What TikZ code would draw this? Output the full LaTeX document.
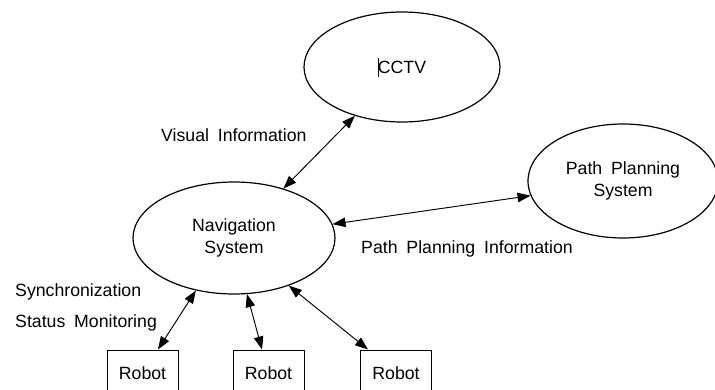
\documentclass[tikz,border=0pt]{standalone}
\usepackage{fontspec}
\setmainfont{Liberation Sans}
\usetikzlibrary{shapes.geometric,arrows.meta,calc}

% label font with the wider word gaps used throughout
\newcommand\lblfont{\fontsize{17.7}{22}\selectfont\spaceskip=0.5em\relax}

\tikzset{
  oval/.style={draw, ellipse, line width=1.2pt, inner sep=0pt, align=center,
               font=\lblfont},
  robotbox/.style={draw, rectangle, line width=1pt, minimum width=71pt,
                   minimum height=46pt, inner sep=0pt, font=\lblfont},
  lbl/.style={inner sep=0pt, anchor=west, font=\lblfont},
  link/.style={line width=0.95pt, {Triangle[length=13pt,width=9.5pt]}-{Triangle[length=13pt,width=9.5pt]}}
}

\begin{document}
\begin{tikzpicture}[x=1pt,y=-1pt]
  \clip (0,0) rectangle (715,390);
  \fill[white] (0,0) rectangle (715,390);

  % main blocks
  \node[oval, minimum width=196pt, minimum height=110pt] (cctv) at (402,67) {CCTV};
  \node[oval, minimum width=202pt, minimum height=112pt] (nav) at (234,238) {Navigation\\System};
  \node[oval, minimum width=190pt, minimum height=114pt] (pps) at (623,181) {Path Planning\\System};

  % text caret before the CCTV label
  \draw[line width=0.6pt] ($(cctv.center)+(-24,-9)$) coordinate (caretTop) -- ($(cctv.center)+(-24,10)$) coordinate (caretBot);

  % robots
  \node[robotbox] (r1) at (142.5,373) {Robot};
  \node[robotbox] (r2) at (268.5,373) {Robot};
  \node[robotbox] (r3) at (396,373) {Robot};

  % links
  \draw[link] (cctv.226) -- (nav.45);
  \draw[link] (nav.8.7) -- (pps.189.8);
  \draw[link] (nav.234.7) -- ([xshift=15.5pt]r1.north);
  \draw[link] (nav.283.6) -- ([xshift=-6.5pt]r2.north);
  \draw[link] (nav.319.7) -- ([xshift=-28pt]r3.north);

  % link labels
  \node[lbl] (visinfo) at (161,135) {Visual Information};
  \node[lbl] (ppinfo) at (361,249) {Path Planning Information};
  \node[lbl] (sync) at (15,292) {Synchronization};
  \node[lbl] (status) at (15,323) {Status Monitoring};
\end{tikzpicture}
\end{document}
